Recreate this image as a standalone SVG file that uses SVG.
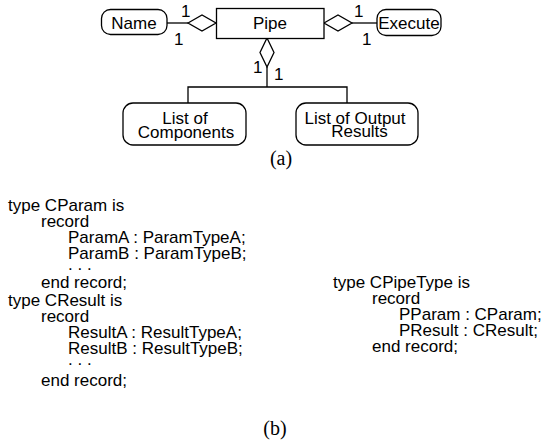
<svg xmlns="http://www.w3.org/2000/svg" width="554" height="443" viewBox="0 0 554 443">
<style>
.box{fill:#fff;stroke:#000;stroke-width:1.3}
.ln{fill:none;stroke:#000;stroke-width:1.3}
.t{font-family:"Liberation Sans",Arial,Helvetica,sans-serif;font-size:17px;fill:#000}
.c{font-family:"Liberation Sans",Arial,Helvetica,sans-serif;font-size:17px;fill:#000}
.m{text-anchor:middle}
.cap{font-family:"Liberation Serif","Times New Roman",serif;font-size:20px;fill:#000;text-anchor:middle}
</style>
<rect width="554" height="443" fill="#fff"/>
<g id="connectors">
<line class="ln" x1="167" y1="23" x2="188" y2="23"/>
<polygon class="ln" points="188,23 202,15 216,23 202,31"/>
<polygon class="ln" points="324,23 338,15 352,23 338,31"/>
<line class="ln" x1="352" y1="23" x2="377" y2="23"/>
<polygon class="ln" points="267,38 274,52.5 267,67 260,52.5"/>
<polyline class="ln" points="267,67 267,87"/>
<polyline class="ln" points="188,103 188,87 347,87 347,103"/>
<text class="t" x="181" y="17">1</text>
<text class="t" x="174" y="45">1</text>
<text class="t" x="354" y="17">1</text>
<text class="t" x="362" y="45">1</text>
<text class="t" x="253" y="73">1</text>
<text class="t" x="274" y="80">1</text>
</g>
<g id="name"><rect class="box" x="101.5" y="9.5" width="65.5" height="25" rx="9"/><text class="t m" x="134" y="29">Name</text></g>
<g id="pipe"><rect class="box" x="216.5" y="8.5" width="107.5" height="30"/><text class="t m" x="270" y="29">Pipe</text></g>
<g id="execute"><rect class="box" x="377" y="9.5" width="64" height="26" rx="9"/><text class="t m" x="409" y="29">Execute</text></g>
<g id="components"><rect class="box" x="123" y="103" width="123" height="42" rx="10"/><text class="t m" x="185" y="124">List of</text><text class="t m" x="186" y="138">Components</text></g>
<g id="results"><rect class="box" x="296" y="103" width="122" height="42" rx="10"/><text class="t m" x="355" y="124">List of Output</text><text class="t m" x="359.5" y="137">Results</text></g>
<text class="cap" x="281" y="165">(a)</text>
<g id="code-left" class="c">
<text x="8" y="211">type CParam is</text>
<text x="41" y="227">record</text>
<text x="68" y="243">ParamA : ParamTypeA;</text>
<text x="68" y="259">ParamB : ParamTypeB;</text>
<text x="68" y="270">. . .</text>
<text x="41" y="288">end record;</text>
<text x="8" y="306">type CResult is</text>
<text x="41" y="322">record</text>
<text x="68" y="338">ResultA : ResultTypeA;</text>
<text x="68" y="354">ResultB : ResultTypeB;</text>
<text x="68" y="365">. . .</text>
<text x="41" y="386">end record;</text>
</g>
<g id="code-right" class="c">
<text x="333" y="288">type CPipeType is</text>
<text x="372" y="304">record</text>
<text x="399" y="320">PParam : CParam;</text>
<text x="399" y="336">PResult : CResult;</text>
<text x="372" y="352">end record;</text>
</g>
<text class="cap" x="275" y="435">(b)</text>
</svg>
